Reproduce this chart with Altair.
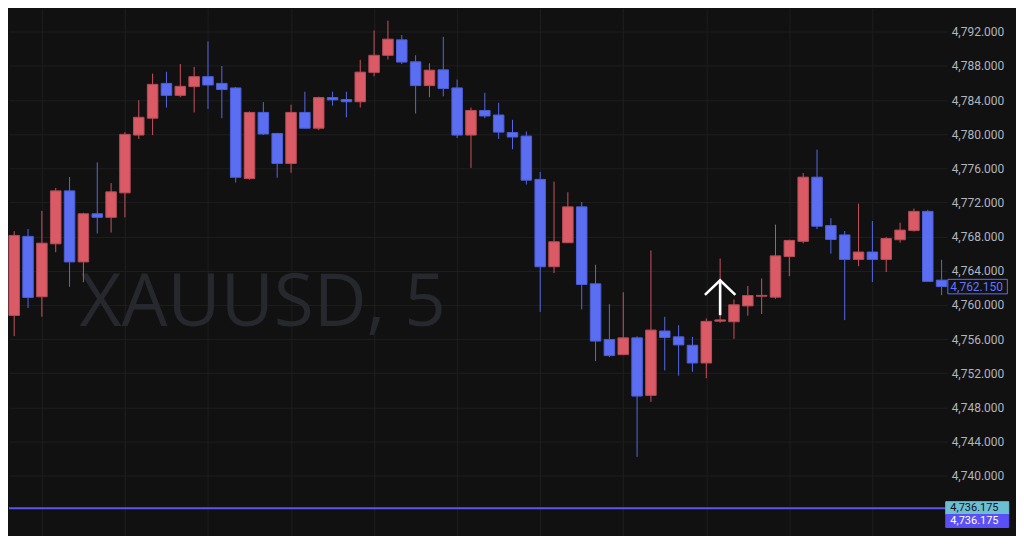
import altair as alt
import pandas as pd

# ---- data ----
opens = [4758.77, 4768.03, 4760.96, 4767.16, 4773.36, 4765.04, 4770.68, 4770.26, 4773.13, 4779.90,
         4781.87, 4785.95, 4784.55, 4785.57, 4786.74, 4785.95, 4785.42, 4774.80, 4782.55, 4780.09,
         4776.57, 4782.55, 4780.70, 4784.29, 4784.06, 4783.80, 4787.24, 4789.24, 4791.05, 4788.48,
         4785.69, 4787.54, 4785.42, 4779.90, 4782.78, 4782.25, 4780.20, 4779.78, 4774.71, 4764.48,
         4767.29, 4771.49, 4762.48, 4755.96, 4754.18, 4756.15, 4749.41, 4756.95, 4756.27, 4755.28,
         4753.20, 4758.10, 4758.03, 4759.89, 4761.02, 4760.91, 4765.67, 4767.45, 4774.97, 4769.30,
         4768.20, 4765.33, 4766.20, 4765.33, 4767.64, 4768.73, 4770.96, 4762.91]
highs = [4768.64, 4768.90, 4771.02, 4773.70, 4774.99, 4770.79, 4776.69, 4774.27, 4780.24, 4783.98,
         4787.09, 4787.31, 4788.22, 4787.88, 4790.87, 4787.99, 4785.53, 4782.66, 4783.76, 4780.15,
         4783.46, 4784.97, 4784.40, 4784.97, 4784.97, 4788.71, 4792.15, 4793.29, 4791.62, 4789.24,
         4788.30, 4791.40, 4786.40, 4783.12, 4784.85, 4783.68, 4781.68, 4780.32, 4775.58, 4774.45,
         4773.20, 4772.06, 4764.71, 4760.09, 4761.49, 4756.34, 4766.38, 4758.61, 4757.63, 4756.27,
         4758.42, 4765.44, 4760.64, 4762.23, 4763.10, 4769.41, 4767.64, 4775.46, 4778.19, 4770.17,
         4768.66, 4771.87, 4769.83, 4767.98, 4769.64, 4771.30, 4771.15, 4765.29]
lows = [4756.35, 4759.64, 4758.62, 4766.18, 4762.13, 4762.66, 4768.37, 4768.48, 4770.26, 4779.45,
        4779.90, 4783.12, 4784.33, 4782.55, 4782.96, 4781.87, 4774.34, 4774.68, 4779.90, 4774.90,
        4775.48, 4780.70, 4780.47, 4783.34, 4781.98, 4783.12, 4786.78, 4788.75, 4788.22, 4782.43,
        4784.33, 4784.44, 4779.56, 4776.05, 4781.87, 4779.45, 4778.24, 4774.11, 4759.18, 4763.73,
        4767.29, 4759.48, 4753.42, 4753.88, 4754.18, 4742.21, 4748.65, 4752.33, 4751.72, 4752.17,
        4751.42, 4757.92, 4756.03, 4758.75, 4758.94, 4760.72, 4763.37, 4767.22, 4768.88, 4766.01,
        4758.22, 4764.54, 4762.68, 4763.86, 4767.30, 4768.58, 4762.76, 4761.13]
closes = [4768.14, 4760.88, 4767.24, 4773.36, 4765.04, 4770.68, 4770.26, 4773.25, 4779.98, 4781.98,
          4785.84, 4784.55, 4785.61, 4786.74, 4785.76, 4785.23, 4774.95, 4782.55, 4780.02, 4776.57,
          4782.55, 4780.70, 4784.29, 4784.02, 4783.80, 4787.27, 4789.24, 4791.13, 4788.45, 4785.69,
          4787.50, 4785.35, 4779.90, 4782.78, 4782.13, 4780.24, 4779.67, 4774.61, 4764.48, 4767.40,
          4771.49, 4762.40, 4755.77, 4754.07, 4756.15, 4749.33, 4757.06, 4756.19, 4755.32, 4753.20,
          4758.08, 4758.25, 4760.02, 4761.10, 4761.12, 4765.75, 4767.56, 4774.97, 4769.22, 4767.67,
          4765.33, 4766.20, 4765.33, 4767.79, 4768.77, 4770.96, 4762.76, 4762.15]

y_ticks = [4740, 4744, 4748, 4752, 4756, 4760, 4764, 4768, 4772, 4776, 4780, 4784, 4788, 4792]
x_grid = [2, 8, 14, 20, 26, 32, 38, 44, 50, 56, 62]

symbol_text = "XAUUSD, 5"
last_price = 4762.15
line_price = 4736.175
signal_bar = 51

# ---- styling / layout ----
BG = "#111111"
GRID = "#1e1e1e"
UP, DOWN = "#da5a66", "#5b6ef2"
UP_EDGE, DOWN_EDGE = "#b54c57", "#4b5dd8"
UP_WICK, DOWN_WICK = "#c9525e", "#5468e6"
X_DOM = [-0.376, 67.4]
Y_DOM = [4733.0, 4794.72]
HALF = 0.38

n = len(opens)
df = pd.DataFrame({"i": list(range(n)), "open": opens, "high": highs, "low": lows, "close": closes})
df["dir"] = ["up" if c >= o else "down" for o, c in zip(opens, closes)]
df["x0"] = df["i"] - HALF
df["x1"] = df["i"] + HALF


def xenc(field):
    return alt.X(field, type="quantitative",
                 scale=alt.Scale(domain=X_DOM, nice=False, zero=False),
                 axis=alt.Axis(values=x_grid, labels=False, ticks=False, domain=False,
                               grid=True, gridColor=GRID, gridWidth=1, title=None))


def yenc(field):
    return alt.Y(field, type="quantitative",
                 scale=alt.Scale(domain=Y_DOM, nice=False, zero=False),
                 axis=alt.Axis(orient="right", values=y_ticks, format=",.3f", grid=True,
                               gridColor=GRID, gridWidth=1, ticks=False, domain=False,
                               labelColor="#b2b5be", labelFont="Roboto", labelFontSize=12,
                               labelPadding=4, title=None))


# watermark
wm = pd.DataFrame({"x": [4.71], "y": [4757.48], "t": [symbol_text]})
watermark = alt.Chart(wm).mark_text(align="left", baseline="alphabetic", font="Open Sans",
                                    fontSize=73, color="#27282d").encode(
    x=xenc("x"), y=yenc("y"), text="t:N")

wicks = alt.Chart(df).mark_rule(strokeWidth=1).encode(
    x=xenc("i"), y=yenc("low"), y2="high",
    color=alt.Color("dir:N", scale=alt.Scale(domain=["up", "down"], range=[UP_WICK, DOWN_WICK]), legend=None))

bodies = alt.Chart(df).mark_bar(strokeWidth=1).encode(
    x=xenc("x0"), x2="x1", y=yenc("open"), y2="close",
    fill=alt.Fill("dir:N", scale=alt.Scale(domain=["up", "down"], range=[UP, DOWN]), legend=None),
    stroke=alt.Stroke("dir:N", scale=alt.Scale(domain=["up", "down"], range=[UP_EDGE, DOWN_EDGE]), legend=None))

# horizontal price line
hl = pd.DataFrame({"x0": [X_DOM[0]], "x1": [X_DOM[1]], "y": [line_price]})
hline = alt.Chart(hl).mark_rule(strokeWidth=2, color="#5856ee").encode(
    x=xenc("x0"), x2="x1", y=yenc("y"))

# arrow above the signal bar
arrow = pd.DataFrame({
    "x": [signal_bar, signal_bar, signal_bar - 1.1, signal_bar, signal_bar + 1.1],
    "y": [4758.8, 4762.88, 4761.18, 4762.88, 4761.18],
    "seg": ["shaft", "shaft", "head", "head", "head"],
    "o": [0, 1, 0, 1, 2],
})
arrow_mark = alt.Chart(arrow).mark_line(color="white", strokeWidth=2.6, strokeJoin="miter",
                                        strokeCap="butt").encode(
    x=xenc("x"), y=yenc("y"), detail="seg:N", order="o:Q")

# price labels on the right scale
lbl = pd.DataFrame({
    "x0": [67.45, 67.3, 67.3],
    "x1": [71.75, 71.85, 71.85],
    "y0": [last_price - 0.85, line_price - 0.72, line_price - 2.24],
    "y1": [last_price + 0.85, line_price + 0.78, line_price - 0.72],
    "fill": [BG, "#6cbfd3", "#5a50f5"],
    "stroke": ["#5b6ef2", "#6cbfd3", "#5a50f5"],
    "tc": ["#6274ff", "#0f1218", "#ffffff"],
    "ty": [last_price, line_price + 0.03, line_price - 1.48],
    "tx": [67.63, 67.63, 67.63],
    "fs": [12, 11, 11],
    "t": [f"{last_price:,.3f}", f"{line_price:,.3f}", f"{line_price:,.3f}"],
})
boxes = alt.Chart(lbl).mark_rect(strokeWidth=1).encode(
    x=xenc("x0"), x2="x1", y=yenc("y0"), y2="y1",
    fill=alt.Fill("fill:N", scale=None), stroke=alt.Stroke("stroke:N", scale=None))
box_text = alt.Chart(lbl).mark_text(align="left", baseline="middle", font="Roboto").encode(
    x=xenc("tx"), y=yenc("ty"), text="t:N", color=alt.Color("tc:N", scale=None),
    size=alt.Size("fs:Q", scale=None, legend=None))

chart = alt.layer(watermark, wicks, bodies, hline, arrow_mark, boxes, box_text).resolve_scale(
    color="independent", fill="independent", stroke="independent"
).properties(
    width=940, height=528, background=BG,
    padding={"left": 0, "top": 0, "right": 6, "bottom": 0}
).configure_view(stroke=None)

chart.save("out.html", embed_options={"renderer": "svg", "actions": False})
